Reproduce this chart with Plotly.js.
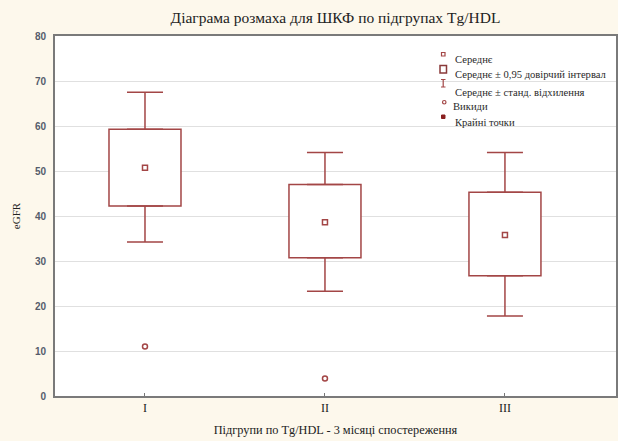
<!DOCTYPE html>
<html>
<head>
<meta charset="utf-8">
<script src="https://cdn.plot.ly/plotly-3.0.1.min.js"></script>
<style>html,body{margin:0;padding:0;background:#fdf8ec;}</style>
</head>
<body>
<div id="chart" style="width:618px;height:441px;"></div>
<script>
// ---- data ----
const groups = ['I', 'II', 'III'];
const means = [50.7, 38.6, 35.8];
const ciLow = [42.2, 30.7, 26.7];
const ciHigh = [59.3, 47.0, 45.3];
const sdLow = [34.2, 23.3, 17.8];
const sdHigh = [67.5, 54.1, 54.1];
const outlierGroups = ['I', 'II'];
const outlierValues = [11.0, 3.9];
const legendLabels = [
  'Середнє',
  'Середнє ± 0,95 довірчий інтервал',
  'Середнє ± станд. відхилення',
  'Викиди',
  'Крайні точки'
];
const titleText = 'Діаграма розмаха для ШКФ по підгрупах Tg/HDL';
const xTitleText = 'Підгрупи по Tg/HDL - 3 місяці спостереження';
const yTitleText = 'eGFR';

// ---- styles ----
const RED = '#a34646';
const SERIF = 'Liberation Serif, Times New Roman, serif';
const W = 618, H = 441;
const M = {l: 55, r: 2, t: 36, b: 45};
const PW = W - M.l - M.r, PH = H - M.t - M.b;
const px = x => (x - M.l) / PW;
const py = y => (H - M.b - y) / PH;

const traces = [
  {
    type: 'bar', x: groups, base: ciLow,
    y: ciHigh.map((v, i) => v - ciLow[i]),
    width: 0.4,
    marker: {color: '#ffffff', line: {color: RED, width: 1.5}},
    hoverinfo: 'skip', showlegend: false
  },
  {
    type: 'scatter', mode: 'markers', x: groups, y: ciHigh,
    marker: {size: 1, color: 'rgba(0,0,0,0)'},
    error_y: {type: 'data', symmetric: false,
      array: sdHigh.map((v, i) => v - ciHigh[i]),
      arrayminus: ciHigh.map(() => 0),
      color: RED, thickness: 1.5, width: 18},
    hoverinfo: 'skip', showlegend: false
  },
  {
    type: 'scatter', mode: 'markers', x: groups, y: ciLow,
    marker: {size: 1, color: 'rgba(0,0,0,0)'},
    error_y: {type: 'data', symmetric: false,
      array: ciLow.map(() => 0),
      arrayminus: ciLow.map((v, i) => v - sdLow[i]),
      color: RED, thickness: 1.5, width: 18},
    hoverinfo: 'skip', showlegend: false
  },
  {
    type: 'scatter', mode: 'markers', x: groups, y: means,
    marker: {symbol: 'square-open', size: 5, color: RED, line: {width: 1.5, color: RED}},
    showlegend: false
  },
  {
    type: 'scatter', mode: 'markers', x: outlierGroups, y: outlierValues,
    marker: {symbol: 'circle-open', size: 5, color: RED, line: {width: 1.5, color: RED}},
    showlegend: false
  }
];

// legend (drawn by hand, paper coordinates)
const legTextX = [453, 453, 453, 451, 453];
const legTextY = [59, 74.5, 92, 106.5, 122];
const annotations = legendLabels.map((t, i) => ({
  xref: 'paper', yref: 'paper', x: px(legTextX[i]), y: py(legTextY[i]),
  xanchor: 'left', yanchor: 'middle', showarrow: false, text: t,
  font: {family: SERIF, size: 10.6, color: '#2a2a2a'}
}));
const shapes = [
  {type: 'rect', xref: 'paper', yref: 'paper', x0: px(441.5), x1: px(445), y0: py(52.5), y1: py(56),
    line: {color: RED, width: 1.2}, fillcolor: 'rgba(0,0,0,0)'},
  {type: 'rect', xref: 'paper', yref: 'paper', x0: px(440), x1: px(446.5), y0: py(65.5), y1: py(73),
    line: {color: '#8a3a3a', width: 1.5}, fillcolor: 'rgba(0,0,0,0)'},
  {type: 'path', xref: 'paper', yref: 'paper',
    path: `M${px(441)},${py(79.5)} L${px(445.5)},${py(79.5)} M${px(443.2)},${py(79.5)} L${px(443.2)},${py(87)} M${px(441)},${py(87)} L${px(445.5)},${py(87)}`,
    line: {color: RED, width: 1.2}},
  {type: 'circle', xref: 'paper', yref: 'paper', x0: px(442.5), x1: px(446), y0: py(100.5), y1: py(104),
    line: {color: RED, width: 1.2}, fillcolor: 'rgba(0,0,0,0)'},
  {type: 'rect', xref: 'paper', yref: 'paper', x0: px(441.5), x1: px(445), y0: py(115), y1: py(118.5),
    line: {color: '#8a2020', width: 1}, fillcolor: '#8a2020'}
];

const layout = {
  width: W, height: H,
  margin: M,
  paper_bgcolor: '#fdf8ec',
  plot_bgcolor: '#ffffff',
  showlegend: false,
  barmode: 'overlay',
  title: {text: titleText, x: 0.5, xref: 'paper', y: 0.96, yanchor: 'middle',
    font: {family: SERIF, size: 15.5, color: '#222'}},
  xaxis: {
    type: 'category', categoryorder: 'array', categoryarray: groups,
    range: [-0.5, 2.617], showgrid: false, zeroline: false,
    showline: true, linecolor: '#7a7a7a', linewidth: 2, mirror: true,
    ticks: 'inside', ticklen: 3, tickcolor: '#777',
    tickfont: {family: SERIF, size: 12, color: '#222'},
    title: {text: xTitleText, standoff: 11, font: {family: SERIF, size: 12.3, color: '#222'}},
    fixedrange: true
  },
  yaxis: {
    range: [0, 80], dtick: 10, showgrid: true, gridcolor: '#e0e0e0', gridwidth: 1,
    zeroline: false, showline: true, linecolor: '#7a7a7a', linewidth: 2, mirror: true,
    ticks: '', ticklabelstandoff: 5,
    tickfont: {family: 'Liberation Sans, Arial, sans-serif', size: 10, color: '#555c6b', weight: 'bold'},
    title: {text: yTitleText, standoff: 12, font: {family: SERIF, size: 11, color: '#222'}},
    fixedrange: true
  },
  annotations: annotations,
  shapes: shapes
};

Plotly.newPlot('chart', traces, layout, {displayModeBar: false, staticPlot: true});
</script>
</body>
</html>
